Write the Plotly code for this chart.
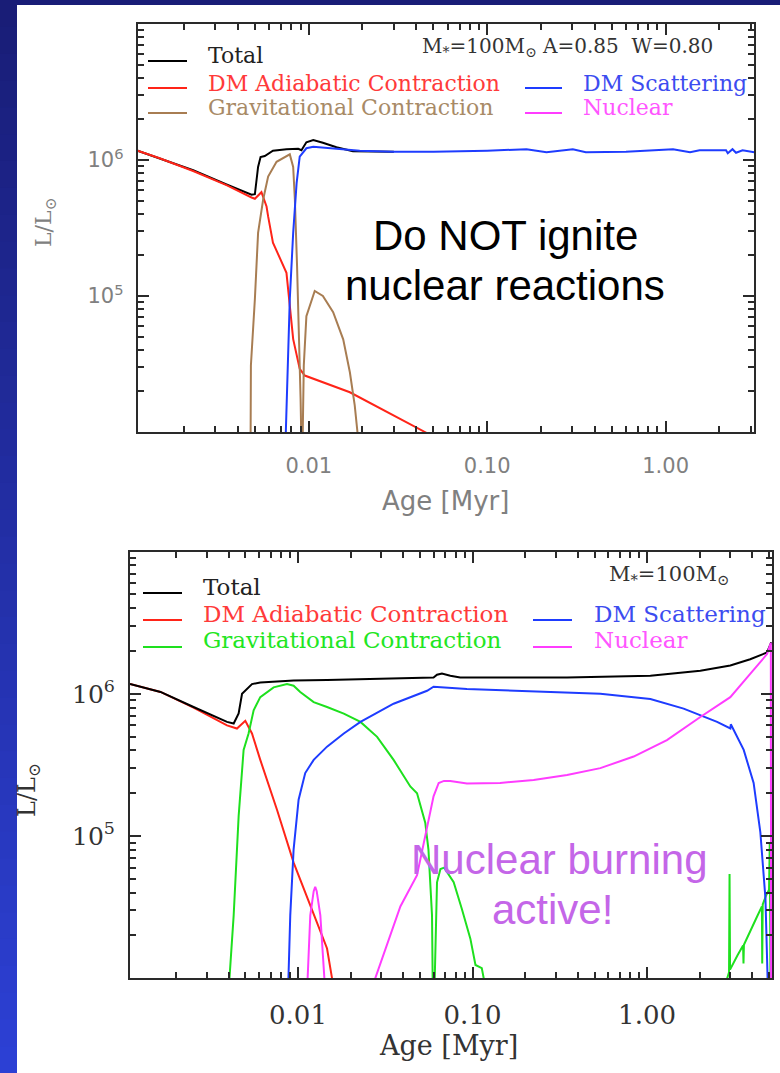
import plotly.graph_objects as go
import math

W, H = 780, 1073

# ---------------- top panel data (Age [Myr], L/Lsun) ----------------
top_total_x = [0.0011, 0.00146, 0.00225, 0.00346, 0.00478, 0.00499, 0.0052, 0.00537, 0.00567, 0.0063,
               0.0075, 0.00873, 0.0091, 0.0097, 0.0106, 0.012, 0.0143, 0.0177, 0.024, 0.03]
top_total_y = [1.17e6, 1.03e6, 8.4e5, 6.6e5, 5.55e5, 5.6e5, 8.9e5, 1.05e6, 1.07e6, 1.17e6,
               1.2e6, 1.21e6, 1.18e6, 1.35e6, 1.4e6, 1.34e6, 1.24e6, 1.16e6, 1.15e6, 1.15e6]

top_dmac_x = [0.0011, 0.00146, 0.00225, 0.00346, 0.00478, 0.00499, 0.00543, 0.0058, 0.00592, 0.0063,
              0.0075, 0.00783, 0.00818, 0.0089, 0.0095, 0.017, 0.0448, 0.06]
top_dmac_y = [1.17e6, 1.03e6, 8.3e5, 6.53e5, 5.3e5, 5.19e5, 5.8e5, 4.55e5, 3.85e5, 2.47e5,
              1.48e5, 8.46e4, 4.82e4, 2.91e4, 2.6e4, 1.96e4, 1.0e4, 8.0e3]

top_grav1_x = [0.00472, 0.00474, 0.00499, 0.0052, 0.00555, 0.00592, 0.0066, 0.0075, 0.00783, 0.00818,
               0.00836, 0.0086, 0.00883, 0.009, 0.0091]
top_grav1_y = [8.0e3, 3.08e4, 9.5e4, 2.91e5, 5.1e5, 7.55e5, 9.7e5, 1.07e6, 1.1e6, 8.9e5,
               5.1e5, 1.66e5, 5.37e4, 1.75e4, 8.0e3]
top_grav2_x = [0.00923, 0.00938, 0.0097, 0.0108, 0.012, 0.0137, 0.0156, 0.017, 0.0181, 0.0189]
top_grav2_y = [8.0e3, 3.08e4, 7.1e4, 1.09e5, 1.0e5, 7.6e4, 4.8e4, 2.75e4, 1.57e4, 9.0e3]

top_dmsc_x = [0.0074, 0.00783, 0.00818, 0.00855, 0.0089, 0.0097, 0.0106, 0.0126, 0.0193, 0.0297,
              0.05, 0.1, 0.166, 0.215, 0.302, 0.357, 0.6, 1.1, 1.37, 1.55,
              2.18, 2.23, 2.37, 2.48, 2.7, 3.14]
top_dmsc_y = [8.0e3, 9.5e4, 2.91e5, 6.76e5, 1.06e6, 1.22e6, 1.25e6, 1.23e6, 1.17e6, 1.15e6,
              1.15e6, 1.17e6, 1.2e6, 1.14e6, 1.2e6, 1.14e6, 1.15e6, 1.2e6, 1.14e6, 1.18e6,
              1.18e6, 1.12e6, 1.2e6, 1.13e6, 1.18e6, 1.14e6]

# ---------------- bottom panel data ----------------
bot_total_x = [0.00109, 0.00163, 0.00252, 0.00392, 0.00428, 0.00457, 0.00478, 0.0051, 0.00545, 0.00608,
               0.00944, 0.01467, 0.0228, 0.0386, 0.0598, 0.0626, 0.0668, 0.0746, 0.085, 0.116,
               0.348, 1.045, 2.02, 3.0, 3.9, 4.87, 5.15]
bot_total_y = [1.17e6, 1.03e6, 8.07e5, 6.34e5, 6.18e5, 7.27e5, 1.0e6, 1.08e6, 1.17e6, 1.2e6,
               1.24e6, 1.25e6, 1.27e6, 1.28e6, 1.3e6, 1.36e6, 1.39e6, 1.34e6, 1.3e6, 1.3e6,
               1.3e6, 1.34e6, 1.45e6, 1.58e6, 1.75e6, 1.95e6, 2.3e6]

bot_dmac_x = [0.00109, 0.00163, 0.00252, 0.00392, 0.00447, 0.00499, 0.00545, 0.00608, 0.00758, 0.00944,
              0.01176, 0.01467, 0.01567, 0.017]
bot_dmac_y = [1.17e6, 1.03e6, 8.0e5, 6.0e5, 5.7e5, 6.45e5, 5.26e5, 3.43e5, 1.53e5, 6.5e4,
              3.25e4, 1.62e4, 1.0e4, 8.0e3]

bot_grav1_x = [0.004, 0.00428, 0.00457, 0.00488, 0.00521, 0.00557, 0.00608, 0.00725, 0.00865, 0.00944,
               0.0103, 0.0123, 0.01467, 0.0183, 0.0228, 0.0284, 0.0353, 0.044, 0.0481, 0.0536,
               0.0559, 0.0586, 0.0592, 0.0605, 0.0626, 0.0655, 0.0688, 0.078, 0.0868, 0.0972,
               0.104, 0.113, 0.12]
bot_grav1_y = [8.0e3, 2.77e4, 1.38e5, 4.03e5, 5.26e5, 7.66e5, 9.47e5, 1.11e6, 1.17e6, 1.14e6,
               1.03e6, 8.74e5, 8.07e5, 7.25e5, 6.34e5, 4.98e5, 3.43e5, 2.23e5, 2.0e5, 1.24e5,
               8.07e4, 2.77e4, 8.0e3, 8.0e3, 4.73e4, 5.87e4, 6.0e4, 4.73e4, 3.08e4, 1.9e4,
               1.24e4, 1.18e4, 8.0e3]
bot_grav2_x = [2.72, 2.95, 2.97, 2.99, 3.3, 3.55, 3.57, 3.59, 4.2, 4.55, 4.57, 4.6, 4.8, 5.0, 5.05, 5.1]
bot_grav2_y = [8.0e3, 1.1e4, 5.4e4, 1.15e4, 1.45e4, 1.7e4, 1.27e4, 1.72e4, 2.6e4, 3.2e4, 1.27e4, 3.3e4,
               3.8e4, 4.2e4, 9.0e4, 8.0e3]

bot_dmsc_x = [0.00877, 0.00903, 0.00944, 0.01008, 0.011, 0.0123, 0.01467, 0.0183, 0.0228, 0.0353,
              0.0549, 0.0598, 0.0929, 0.224, 0.54, 1.045, 1.62, 2.52, 3.0, 3.02,
              3.58, 4.08, 4.46, 4.77, 4.93]
bot_dmsc_y = [8.0e3, 2.77e4, 8.07e4, 1.8e5, 2.77e5, 3.43e5, 4.25e5, 5.26e5, 6.34e5, 8.51e5,
              1.05e6, 1.12e6, 1.08e6, 1.04e6, 1.0e6, 9.2e5, 7.86e5, 6.34e5, 5.7e5, 6.1e5,
              4.03e5, 2.36e5, 1.06e5, 3.63e4, 8.0e3]

bot_nuc1_x = [0.01127, 0.01176, 0.0123, 0.01255, 0.0128, 0.01343, 0.01433]
bot_nuc1_y = [8.0e3, 2.77e4, 4.1e4, 4.4e4, 4.1e4, 2.77e4, 8.0e3]
bot_nuc2_x = [0.026, 0.0353, 0.0386, 0.0481, 0.0536, 0.0598, 0.064, 0.0686, 0.0746, 0.0929,
              0.144, 0.224, 0.348, 0.54, 0.838, 1.30, 2.02, 3.0, 3.9, 4.87,
              5.1, 5.12, 5.14]
bot_nuc2_y = [8.0e3, 2.36e4, 3.2e4, 5.3e4, 1.0e5, 1.9e5, 2.36e5, 2.44e5, 2.44e5, 2.34e5,
              2.36e5, 2.48e5, 2.69e5, 3.0e5, 3.62e5, 4.72e5, 6.87e5, 9.47e5, 1.38e6, 1.9e6,
              2.25e6, 2.25e6, 8.0e3]

# tick labels
x_tickvals = [0.01, 0.1, 1.0]
x_ticktext = ["0.01", "0.10", "1.00"]
y_tickvals = [1e5, 1e6]
y_ticktext = ["10<sup>5</sup>", "10<sup>6</sup>"]

# colours
C_TOTAL = "#000000"
C_DMAC = "#ff2418"
C_GRAV_TOP = "#a87d52"
C_GRAV_BOT = "#1ee01e"
C_DMSC = "#1e3cff"
C_NUC = "#ff3cff"

fig = go.Figure()

def add(x, y, color, xa, ya, w=2):
    fig.add_trace(go.Scatter(x=x, y=y, mode="lines", line=dict(color=color, width=w),
                             xaxis=xa, yaxis=ya, showlegend=False, hoverinfo="skip"))

# top
add(top_total_x, top_total_y, C_TOTAL, "x", "y")
add(top_dmac_x, top_dmac_y, C_DMAC, "x", "y")
add(top_grav1_x, top_grav1_y, C_GRAV_TOP, "x", "y")
add(top_grav2_x, top_grav2_y, C_GRAV_TOP, "x", "y")
add(top_dmsc_x, top_dmsc_y, C_DMSC, "x", "y")
# bottom
add(bot_dmac_x, bot_dmac_y, C_DMAC, "x2", "y2")
add(bot_total_x, bot_total_y, C_TOTAL, "x2", "y2")
add(bot_grav1_x, bot_grav1_y, C_GRAV_BOT, "x2", "y2")
add(bot_grav2_x, bot_grav2_y, C_GRAV_BOT, "x2", "y2")
add(bot_dmsc_x, bot_dmsc_y, C_DMSC, "x2", "y2")
add(bot_nuc1_x, bot_nuc1_y, C_NUC, "x2", "y2")
add(bot_nuc2_x, bot_nuc2_y, C_NUC, "x2", "y2")

def px(v):
    return v / W

def py(v):
    return 1 - v / H

minor_x = [k * 10.0 ** e for e in (-3, -2, -1, 0) for k in range(2, 10)]
minor_y = [k * 10.0 ** e for e in (4, 5, 6) for k in range(2, 10)]

def xaxis(dom, rng, font, color, size, standoff):
    return dict(domain=dom, type="log", range=rng, showline=True, linecolor="#2a2a2a", linewidth=2,
                mirror="allticks", ticks="inside", ticklen=11, tickwidth=1.5, tickcolor="#2a2a2a",
                tickvals=x_tickvals, ticktext=x_ticktext, tickfont=dict(family=font, size=size, color=color),
                minor=dict(ticks="inside", ticklen=6, tickwidth=1.5, tickcolor="#2a2a2a", tickvals=minor_x),
                showgrid=False, zeroline=False, ticklabelstandoff=standoff, fixedrange=True)

def yaxis(dom, font, color, size, standoff):
    return dict(domain=dom, type="log", range=[4, 7], showline=True, linecolor="#2a2a2a", linewidth=2,
                mirror="allticks", ticks="inside", ticklen=11, tickwidth=1.5, tickcolor="#2a2a2a",
                tickvals=y_tickvals, ticktext=y_ticktext, tickfont=dict(family=font, size=size, color=color),
                minor=dict(ticks="inside", ticklen=6, tickwidth=1.5, tickcolor="#2a2a2a", tickvals=minor_y),
                showgrid=False, zeroline=False, ticklabelstandoff=standoff, fixedrange=True)

shapes = []
# blue frame background (gradient strip on left, strip on top)
N = 40
c0 = (0x19, 0x1d, 0x77)
c1 = (0x2c, 0x40, 0xd4)
for i in range(N):
    t = i / (N - 1)
    col = "rgb(%d,%d,%d)" % tuple(round(a + (b - a) * t) for a, b in zip(c0, c1))
    y0 = H * i / N
    y1 = H * (i + 1) / N + 1
    shapes.append(dict(type="rect", xref="paper", yref="paper", x0=0, x1=px(17),
                       y0=py(y1), y1=py(y0), fillcolor=col, line=dict(width=0), layer="below"))
shapes.append(dict(type="rect", xref="paper", yref="paper", x0=0, x1=1, y0=py(5), y1=1,
                   fillcolor="rgb(25,29,119)", line=dict(width=0), layer="below"))

annotations = []

def text(x, y, s, color, size, font="DejaVu Serif", anchor="left", angle=0):
    annotations.append(dict(x=px(x), y=py(y), xref="paper", yref="paper", text=s, showarrow=False,
                            xanchor=anchor, yanchor="middle", textangle=angle,
                            font=dict(family=font, size=size, color=color)))

def sample(x0, x1, y, color):
    shapes.append(dict(type="line", xref="paper", yref="paper", x0=px(x0), x1=px(x1), y0=py(y), y1=py(y),
                       line=dict(color=color, width=2)))

# top legend
sample(148, 187, 61, C_TOTAL)
sample(148, 187, 88, C_DMAC)
sample(148, 187, 113, C_GRAV_TOP)
sample(525, 562, 88, C_DMSC)
sample(525, 562, 113, C_NUC)
text(206, 56, "Total", "#222222", 22)
text(206, 83, "DM Adiabatic Contraction", "#ff3a3a", 22)
text(206, 107, "Gravitational Contraction", "#a88a66", 22)
text(581, 83, "DM Scattering", "#3c4cf0", 22)
text(581, 107, "Nuclear", "#ff55ff", 22)
text(715, 47, "M<sub>*</sub>=100M<sub>⊙</sub> A=0.85  W=0.80", "#333333", 20, anchor="right")

# bottom legend
sample(143, 182, 593, C_TOTAL)
sample(143, 182, 620, C_DMAC)
sample(143, 182, 647, C_GRAV_BOT)
sample(533, 572, 620, C_DMSC)
sample(533, 572, 647, C_NUC)
text(201, 587, "Total", "#222222", 23)
text(201, 614, "DM Adiabatic Contraction", "#ff3a3a", 23)
text(201, 640, "Gravitational Contraction", "#22e622", 23)
text(592, 614, "DM Scattering", "#3c4cf0", 23)
text(592, 640, "Nuclear", "#ff55ff", 23)
text(731, 575, "M<sub>*</sub>=100M<sub>⊙</sub>", "#333333", 21, anchor="right")

# axis titles
text(445, 501, "Age [Myr]", "#808080", 26, font="DejaVu Sans", anchor="center")
text(46, 222, "L/L<sub>⊙</sub>", "#808080", 22, anchor="center", angle=-90)
text(449, 1045, "Age [Myr]", "#333333", 27, anchor="center")
text(28, 790, "L/L<sub>⊙</sub>", "#333333", 24, anchor="center", angle=-90)

# overlay statements
text(505, 235, "Do NOT ignite", "#000000", 42, font="Liberation Sans", anchor="center")
text(505, 285, "nuclear reactions", "#000000", 42, font="Liberation Sans", anchor="center")
text(559, 859, "Nuclear burning", "#c466e8", 42, font="Liberation Sans", anchor="center")
text(552, 909, "active!", "#c466e8", 42, font="Liberation Sans", anchor="center")

fig.update_layout(
    width=W, height=H, margin=dict(l=0, r=0, t=0, b=0),
    paper_bgcolor="white", plot_bgcolor="white", showlegend=False,
    xaxis=xaxis([px(137.7), px(754.3)], [math.log10(0.0011), math.log10(3.14)], "DejaVu Sans", "#808080", 21, 14),
    yaxis=yaxis([py(432), py(24)], "DejaVu Sans", "#808080", 21, 8),
    xaxis2=xaxis([px(130), px(772)], [math.log10(0.00109), math.log10(5.2)], "DejaVu Serif", "#333333", 26, 12),
    yaxis2=yaxis([py(978.3), py(551.5)], "DejaVu Serif", "#333333", 25, 8),
    shapes=shapes, annotations=annotations,
)
fig.update_layout(xaxis=dict(anchor="y"), yaxis=dict(anchor="x"), xaxis2=dict(anchor="y2"), yaxis2=dict(anchor="x2"))

fig.write_html("out.html")
